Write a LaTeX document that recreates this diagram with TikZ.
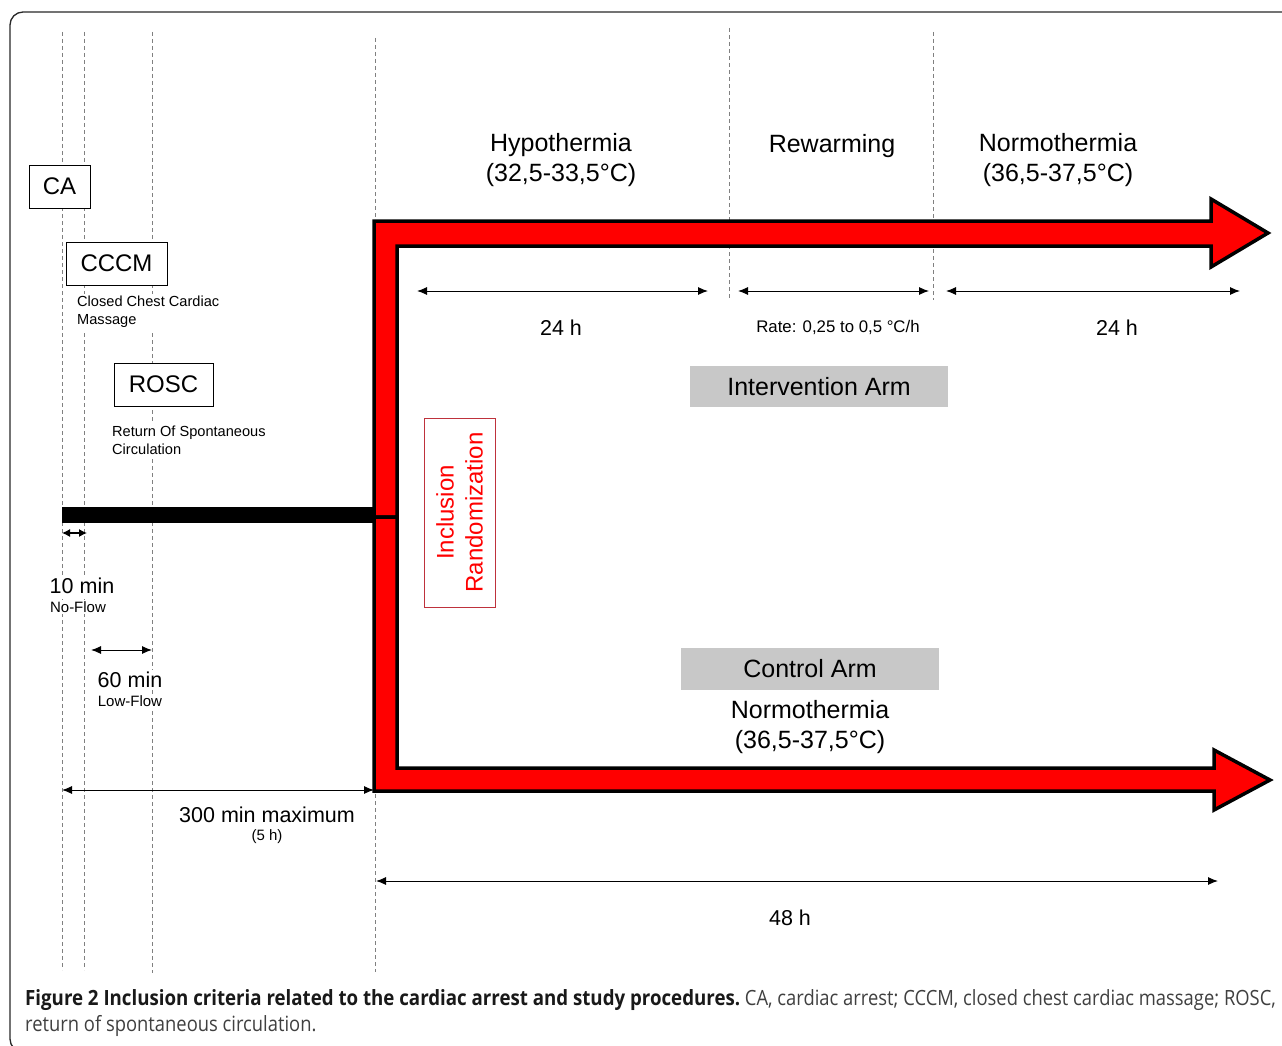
\documentclass[tikz,border=0pt]{standalone}
\usepackage{fontspec}
\setmainfont{Liberation Sans}
\newfontfamily\capreg[FakeStretch=0.875]{Open Sans}
\newfontfamily\capbold[FakeStretch=0.89]{Open Sans}
\usetikzlibrary{arrows.meta}
\definecolor{armgray}{RGB}{200,200,200}
\definecolor{boxred}{RGB}{190,50,60}
\definecolor{framegray}{RGB}{40,40,40}
\begin{document}
\begin{tikzpicture}[x=1pt,y=-1pt,
 dline/.style={draw=black!50, line width=0.9pt, dash pattern=on 4pt off 3pt},
 f25/.style={font=\fontsize{25}{30}\selectfont},
 f24/.style={font=\fontsize{24}{29}\selectfont},
 f21/.style={font=\fontsize{21.5}{25}\selectfont},
 f15/.style={font=\fontsize{15}{18}\selectfont},
 f14/.style={font=\fontsize{14.6}{18}\selectfont},
 abox/.style={draw=black, line width=1pt, fill=white, f24, inner sep=0pt},
 wbg/.style={fill=white, inner sep=2pt},
 dimarrow/.style={line width=1pt, {Latex[length=10pt,width=8pt]}-{Latex[length=10pt,width=8pt]}},
 garm/.style={fill=armgray, f25, inner sep=0pt, minimum width=258pt, minimum height=41pt},
 band/.style={fill=red, draw=black, line width=3.5pt, line join=miter},
]
\useasboundingbox (0,0) rectangle (1282,1046);
\fill[white] (0,0) rectangle (1282,1046);
\begin{scope}
\clip (0,0) rectangle (1282,1046);
\draw[framegray, line width=1.3pt, rounded corners=13pt] (10,12) rectangle (1300,1052);
\end{scope}

% dashed guide lines
\coordinate (d1t) at (62,32);  \coordinate (d1b) at (62,970);
\coordinate (d2t) at (84,32);  \coordinate (d2b) at (84,970);
\coordinate (d3t) at (152,32); \coordinate (d3b) at (152,973);
\coordinate (d4t) at (375,38); \coordinate (d4b) at (375,972);
\coordinate (d5t) at (729,28); \coordinate (d5b) at (729,300);
\coordinate (d6t) at (933,32); \coordinate (d6b) at (933,300);
\foreach \i in {1,...,6} \draw[dline] (d\i t) -- (d\i b);

% black bar
\fill[black] (62,507) rectangle (374,523);

% red band arrows
\draw[band] (374,221) -- (1211,221) -- (1211,199) -- (1268,233) -- (1211,267) -- (1211,246)
  -- (397,246) -- (397,517) -- (374,517) -- cycle;
\draw[band] (374,517) -- (397,517) -- (397,768) -- (1214,768) -- (1214,750) -- (1270,780)
  -- (1214,810) -- (1214,791) -- (374,791) -- cycle;

% left boxes and labels
\node[abox, minimum width=61pt, minimum height=43pt] (ca) at (59.5,186.5) {CA};
\node[abox, minimum width=101pt, minimum height=43pt] (cccm) at (116.5,263.5) {CCCM};
\node[wbg, f14, anchor=west, align=left] (cccmt) at (75,312) {Closed Chest Cardiac\\Massage};
\node[abox, minimum width=99pt, minimum height=43pt] (rosc) at (163.5,384.5) {ROSC};
\node[wbg, f14, anchor=west, align=left] (rosct) at (110,440.5) {Return Of Spontaneous\\Circulation};

% 10 min
\coordinate (nf1) at (62,533); \coordinate (nf2) at (87,533);
\draw[line width=1.2pt, {Latex[length=8pt,width=8pt]}-{Latex[length=8pt,width=8pt]}] (nf1) -- (nf2);
\node[wbg, f21] (tenmin) at (82,586) {10 min};
\node[wbg, f15, inner sep=1pt] (noflow) at (78,607) {No-Flow};

% 60 min
\coordinate (lf1) at (91,650); \coordinate (lf2) at (152,650);
\draw[dimarrow] (lf1) -- (lf2);
\node[wbg, f21] (sixtymin) at (130,680) {60 min};
\node[wbg, f15, inner sep=1pt] (lowflow) at (130,701) {Low-Flow};

% 300 min
\coordinate (m1) at (62,790); \coordinate (m2) at (374,790);
\draw[dimarrow] (m1) -- (m2);
\node[f21] (maxt) at (267,815) {300 min maximum};
\node[f15] (fiveh) at (267,837) {(5 h)};

% phase headings
\node[f25, align=center] (hypo) at (561,160.5) {Hypothermia\\(32,5-33,5°C)};
\node[f25] (rew) at (832,146) {Rewarming};
\node[f25, align=center] (normo) at (1058,160.5) {Normothermia\\(36,5-37,5°C)};

% phase durations
\coordinate (a1) at (417,291); \coordinate (a2) at (708,291);
\coordinate (b1) at (738,291); \coordinate (b2) at (929,291);
\coordinate (c1) at (946,291); \coordinate (c2) at (1240,291);
\draw[dimarrow] (a1) -- (a2);
\draw[dimarrow] (b1) -- (b2);
\draw[dimarrow] (c1) -- (c2);
\node[f21] (h24a) at (561,328) {24 h};
\node[font=\fontsize{16.8}{20}\selectfont] (rate) at (838,327) {Rate: 0,25 to 0,5 °C/h};
\node[f21] (h24b) at (1117,328) {24 h};

% arms
\node[garm] (interv) at (819,386.5) {Intervention Arm};
\node[garm, minimum height=42pt] (control) at (810,669) {Control Arm};
\node[f25, align=center] (normo2) at (810,727) {Normothermia\\(36,5-37,5°C)};

% inclusion box
\node[draw=boxred, line width=0.9pt, rotate=90, minimum width=189pt, minimum height=71pt,
  text=red, f24, align=center, inner sep=0pt] (incl) at (459.5,512.5) {Inclusion\\Randomization};

% 48 h
\coordinate (e1) at (376,881); \coordinate (e2) at (1218,881);
\draw[dimarrow] (e1) -- (e2);
\node[f21] (h48) at (790,918) {48 h};

% caption
\node[anchor=west, inner sep=0pt, font=\fontsize{21}{25}\selectfont] (cap1) at (25,1000)
 {\color{black!90}\capbold\bfseries Figure 2 Inclusion criteria related to the cardiac arrest and study procedures.\capreg\mdseries\color{black!75}\ CA, cardiac arrest; CCCM, closed chest cardiac massage; ROSC,};
\node[anchor=west, inner sep=0pt, font=\fontsize{21}{25}\selectfont, text=black!75] (cap2) at (25,1026)
 {\capreg return of spontaneous circulation.};
\end{tikzpicture}
\end{document}
